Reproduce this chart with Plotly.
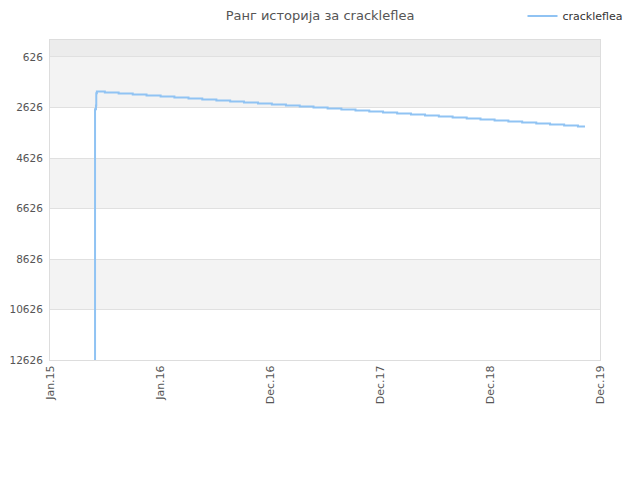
import plotly.graph_objects as go

# rank history (lower rank number = better)
dates = [
    "2015-05-27", "2015-05-28", "2015-05-31", "2015-06-01", "2015-06-03",
    "2015-06-29", "2015-08-13", "2015-09-28", "2015-11-12", "2015-12-28",
    "2016-02-11", "2016-03-28", "2016-05-12", "2016-06-27", "2016-08-11",
    "2016-09-25", "2016-11-10", "2016-12-25", "2017-02-09", "2017-03-26",
    "2017-05-10", "2017-06-25", "2017-08-09", "2017-09-24", "2017-11-08",
    "2017-12-23", "2018-02-07", "2018-03-24", "2018-05-09", "2018-06-23",
    "2018-08-07", "2018-09-22", "2018-11-06", "2018-12-22", "2019-02-05",
    "2019-03-22", "2019-05-07", "2019-06-21", "2019-08-06", "2019-09-20",
    "2019-10-13",
]
ranks = [
    12626, 2700, 2550, 2060, 1990,
    2032, 2072, 2110, 2151, 2189,
    2230, 2268, 2309, 2349, 2387,
    2428, 2466, 2507, 2546, 2585,
    2626, 2664, 2704, 2743, 2783,
    2822, 2862, 2902, 2940, 2981,
    3020, 3059, 3099, 3138, 3178,
    3217, 3257, 3296, 3336, 3376,
    3376,
]

y_ticks = [626, 2626, 4626, 6626, 8626, 10626, 12626]
x_tickvals = ["2015-01-01", "2015-12-26", "2016-12-19", "2017-12-14", "2018-12-08", "2019-12-01"]
x_ticktext = ["Jan.15", "Jan.16", "Dec.16", "Dec.17", "Dec.18", "Dec.19"]

fig = go.Figure()
fig.add_trace(go.Scatter(
    x=dates, y=ranks, mode="lines", name="crackleflea",
    line=dict(color="#90c3f3", width=2, shape="hv"),
))

# alternating background bands
top = -47
bands = [(top, 626, "#ececec"), (626, 2626, "#f3f3f3"), (4626, 6626, "#f3f3f3"), (8626, 10626, "#f3f3f3")]
for y0, y1, c in bands:
    fig.add_shape(type="rect", xref="paper", yref="y", x0=0, x1=1, y0=y0, y1=y1,
                  fillcolor=c, line=dict(width=0), layer="below")

# page body adds ~8px offset, so margins are shifted to compensate
fig.update_layout(
    width=640, height=480,
    margin=dict(l=42, r=48, t=32, b=128, autoexpand=False),
    paper_bgcolor="white", plot_bgcolor="white",
    font=dict(family="DejaVu Sans", size=11, color="#555555"),
    title=dict(text="Ранг историја за crackleflea", x=0.4875, xanchor="center",
               y=0.984, yanchor="middle", font=dict(size=13, color="#555555")),
    showlegend=True,
    legend=dict(x=1.05, xanchor="right", y=1.075, yanchor="middle",
                font=dict(size=11, color="#333333"),
                bgcolor="rgba(0,0,0,0)"),
)
fig.update_xaxes(
    type="date", range=["2015-01-01", "2019-12-01"],
    tickvals=x_tickvals, ticktext=x_ticktext, tickangle=-90,
    showgrid=False, zeroline=False,
    showline=True, linecolor="#dddddd", mirror=True, ticks="",
)
fig.update_yaxes(
    range=[12626, top], tickvals=y_ticks, ticktext=[str(v) for v in y_ticks],
    tickfont=dict(size=10.5),
    showgrid=True, gridcolor="#e0e0e0", zeroline=False,
    showline=True, linecolor="#dddddd", mirror=True, ticks="",
    ticklabelstandoff=4,
)

fig.write_html("out.html")
